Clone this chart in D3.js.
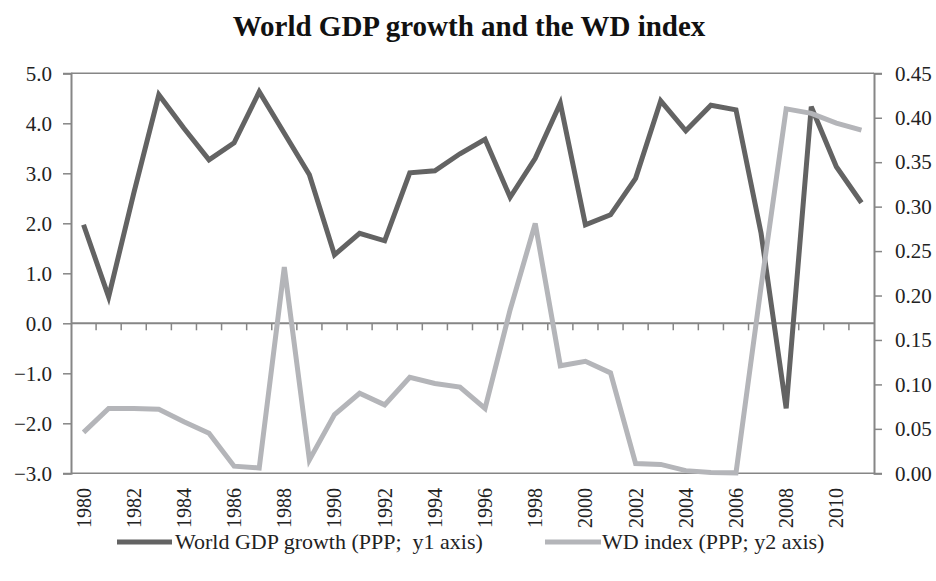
<!DOCTYPE html>
<html>
<head>
<meta charset="utf-8">
<script src="https://cdn.jsdelivr.net/npm/d3@7"></script>
<style>
  body { margin: 0; background: #fff; }
  svg text { font-family: "Liberation Serif", "DejaVu Serif", serif; fill: #222; }
</style>
</head>
<body>
<div class="canvas"></div>
<script>
const years = d3.range(1980, 2012)

const gdpGrowth = [1.97, 0.53, 2.6, 4.57, 3.9, 3.27, 3.61, 4.63, 3.8, 2.97,
  1.37, 1.8, 1.65, 3.01, 3.05, 3.39, 3.68, 2.52, 3.3, 4.4,
  1.97, 2.17, 2.9, 4.45, 3.85, 4.36, 4.27, 1.8, -1.7, 4.33,
  3.13, 2.41]

const wdIndex = [0.046, 0.073, 0.073, 0.072, 0.058, 0.045, 0.008, 0.006, 0.232, 0.015,
  0.066, 0.09, 0.077, 0.108, 0.101, 0.097, 0.073, 0.184, 0.281, 0.121,
  0.126, 0.113, 0.011, 0.01, 0.003, 0.001, 0.0005, 0.21, 0.41, 0.405,
  0.394, 0.386]

const y1Ticks = [5, 4, 3, 2, 1, 0, -1, -2, -3]
const y2Ticks = [0.45, 0.40, 0.35, 0.30, 0.25, 0.20, 0.15, 0.10, 0.05, 0.00]

const series = [
  { name: 'World GDP growth (PPP;  y1 axis)', values: gdpGrowth, axis: 'y1', color: '#636363' },
  { name: 'WD index (PPP; y2 axis)', values: wdIndex, axis: 'y2', color: '#b4b5b9' }
]

const dims = { width: 936, height: 581 }
const plot = { left: 71, right: 874, top: 73.3, bottom: 473.3 }
const axisColor = '#868686'

const svg = d3.select('.canvas').append('svg')
  .attr('width', dims.width)
  .attr('height', dims.height)

// scales
const x = d3.scaleBand()
  .domain(years)
  .range([plot.left, plot.right])

const y1 = d3.scaleLinear()
  .domain([-3, 5])
  .range([plot.bottom, plot.top])

const y2 = d3.scaleLinear()
  .domain([0, 0.45])
  .range([plot.bottom, plot.top])

// title
svg.append('text')
  .attr('x', 469)
  .attr('y', 36)
  .attr('text-anchor', 'middle')
  .style('font-size', '29px')
  .style('font-weight', 'bold')
  .style('fill', '#111')
  .text('World GDP growth and the WD index')

// top and bottom frame lines
svg.append('g')
  .selectAll('line')
  .data([5, -3])
  .join('line')
  .attr('x1', plot.left)
  .attr('x2', plot.right)
  .attr('y1', d => y1(d))
  .attr('y2', d => y1(d))
  .attr('stroke', axisColor)
  .attr('stroke-width', 1.5)

// left axis
const leftAxis = svg.append('g')
  .attr('transform', `translate(${plot.left}, 0)`)
  .call(d3.axisLeft(y1).tickValues(y1Ticks).tickSize(8).tickPadding(11)
    .tickFormat(d => d3.format('.1f')(d).replace('-', '\u2212')))

// right axis
const rightAxis = svg.append('g')
  .attr('transform', `translate(${plot.right}, 0)`)
  .call(d3.axisRight(y2).tickValues(y2Ticks).tickSize(8).tickPadding(13)
    .tickFormat(d3.format('.2f')))

;[leftAxis, rightAxis].forEach(g => {
  g.select('.domain').attr('stroke', axisColor).attr('stroke-width', 2)
  g.selectAll('.tick line').attr('stroke', axisColor).attr('stroke-width', 1.5)
  g.selectAll('.tick text')
    .style('font-size', '21px')
    .style('font-family', '"Liberation Serif", serif')
    .attr('fill', '#222')
})

// category axis on the zero line, ticks between categories
const zeroY = y1(0)
svg.append('line')
  .attr('x1', plot.left)
  .attr('x2', plot.right)
  .attr('y1', zeroY)
  .attr('y2', zeroY)
  .attr('stroke', axisColor)
  .attr('stroke-width', 2)

svg.append('g')
  .selectAll('line')
  .data(years.slice(1))
  .join('line')
  .attr('x1', d => x(d))
  .attr('x2', d => x(d))
  .attr('y1', zeroY)
  .attr('y2', zeroY + 7)
  .attr('stroke', axisColor)
  .attr('stroke-width', 1.5)

// year labels below the plot, every other year
svg.append('g')
  .selectAll('text')
  .data(years.filter(d => d % 2 === 0))
  .join('text')
  .attr('transform', d => `translate(${x(d) + x.bandwidth() / 2 + 7}, 488) rotate(-90)`)
  .attr('text-anchor', 'end')
  .style('font-size', '20px')
  .text(d => d)

// lines
const line = d3.line()
  .x((d, i) => x(years[i]) + x.bandwidth() / 2)

svg.append('g')
  .selectAll('path')
  .data(series)
  .join('path')
  .attr('fill', 'none')
  .attr('stroke', d => d.color)
  .attr('stroke-width', 5)
  .attr('stroke-linejoin', 'miter')
  .attr('d', d => line.y(v => (d.axis === 'y1' ? y1 : y2)(v))(d.values))

// legend
const legendItems = [
  { x1: 117, x2: 172, tx: 175 },
  { x1: 545, x2: 601, tx: 602 }
]

const legend = svg.append('g')
  .selectAll('g')
  .data(series)
  .join('g')

legend.append('line')
  .attr('x1', (d, i) => legendItems[i].x1)
  .attr('x2', (d, i) => legendItems[i].x2)
  .attr('y1', 542)
  .attr('y2', 542)
  .attr('stroke', d => d.color)
  .attr('stroke-width', 5)

legend.append('text')
  .attr('x', (d, i) => legendItems[i].tx)
  .attr('y', 549)
  .style('font-size', '22px')
  .style('white-space', 'pre')
  .attr('xml:space', 'preserve')
  .text(d => d.name)
</script>
</body>
</html>
